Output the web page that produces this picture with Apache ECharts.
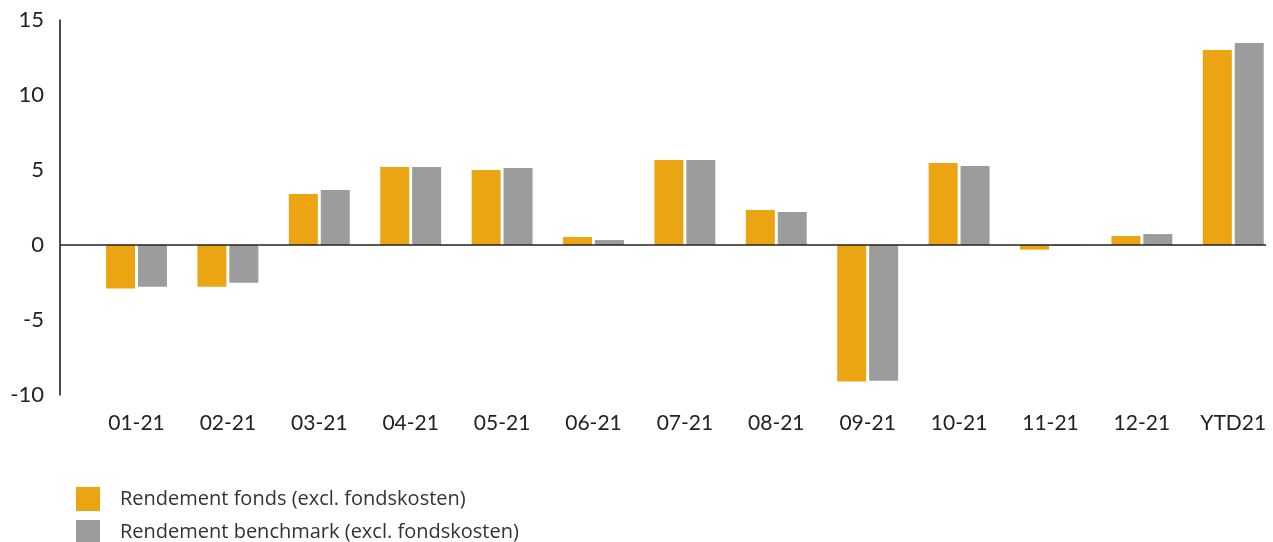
<!DOCTYPE html>
<html>
<head>
<meta charset="utf-8">
<script src="https://cdn.jsdelivr.net/npm/echarts@6/dist/echarts.min.js"></script>
<style>
  html, body { margin: 0; padding: 0; background: #fff; }
  #chart { width: 1273px; height: 542px; }
</style>
</head>
<body>
<div id="chart"></div>
<script>
const categories = ['01-21', '02-21', '03-21', '04-21', '05-21', '06-21', '07-21', '08-21', '09-21', '10-21', '11-21', '12-21', 'YTD21']
const fondsValues = [-2.9, -2.78, 3.4, 5.2, 5.0, 0.53, 5.67, 2.33, -9.1, 5.47, -0.31, 0.6, 13.0]
const benchmarkValues = [-2.78, -2.51, 3.67, 5.2, 5.13, 0.33, 5.67, 2.2, -9.05, 5.27, -0.05, 0.73, 13.47]
const yTicks = [-10, -5, 0, 5, 10, 15]
const seriesNames = ['Rendement fonds (excl. fondskosten)', 'Rendement benchmark (excl. fondskosten)']

const fontFamily = 'Lato, "Noto Sans", sans-serif'
const chart = echarts.init(document.getElementById('chart'))

// one legend per item so the second one is not wrapped into a new column
const legendFor = (name, top) => ({
  orient: 'vertical',
  left: 76,
  top,
  padding: 0,
  icon: 'rect',
  itemWidth: 24,
  itemHeight: 24,
  textStyle: { fontSize: 20, color: '#333', fontFamily: '"Open Sans", sans-serif', padding: [0, 0, 0, 15] },
  data: [name]
})

const option = {
  animation: false,
  textStyle: { fontFamily },
  grid: { left: 60, right: 7, top: 20, bottom: 147 },
  legend: [legendFor(seriesNames[0], 487), legendFor(seriesNames[1], 520)],
  xAxis: {
    type: 'value',
    min: -0.837,
    max: 12.358,
    axisLine: { show: false },
    axisTick: { show: false },
    splitLine: { show: false },
    axisLabel: {
      customValues: categories.map((c, i) => i),
      formatter: (v) => categories[Math.round(v)] || '',
      fontSize: 21,
      color: '#222',
      margin: 18
    }
  },
  yAxis: {
    type: 'value',
    min: yTicks[0],
    max: yTicks[yTicks.length - 1],
    interval: 5,
    axisLine: { show: true, onZero: false, lineStyle: { color: '#111', width: 1.5 } },
    axisTick: { show: false },
    splitLine: { show: false },
    axisLabel: { fontSize: 22, color: '#222', margin: 16 }
  },
  series: [
    {
      name: seriesNames[0],
      type: 'bar',
      data: fondsValues.map((v, i) => [i, v]),
      barWidth: 29,
      barGap: '10%',
      itemStyle: { color: '#ECA512' },
      markLine: {
        silent: true,
        symbol: 'none',
        label: { show: false },
        lineStyle: { color: '#222', width: 1.5, type: 'solid' },
        data: [{ yAxis: 0 }]
      }
    },
    {
      name: seriesNames[1],
      type: 'bar',
      data: benchmarkValues.map((v, i) => [i, v]),
      barWidth: 29,
      barGap: '10%',
      itemStyle: { color: '#9C9C9C' }
    }
  ]
}

chart.setOption(option)
</script>
</body>
</html>
